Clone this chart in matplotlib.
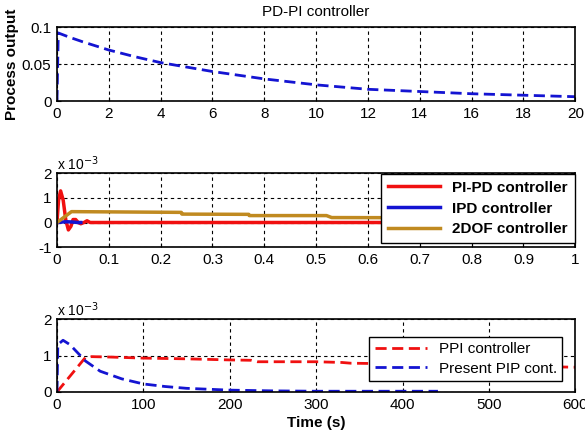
import matplotlib
matplotlib.use('Agg')
import matplotlib.pyplot as plt

# top: PD-PI controller response
t_pdpi = [0, 0.05, 0.5, 1, 2, 3, 4, 5, 6, 7, 8, 9, 10, 11, 12, 13, 14, 15, 16, 17, 18, 19, 20]
y_pdpi = [0, 0.092, 0.086, 0.080, 0.069, 0.060, 0.052, 0.046, 0.040, 0.035, 0.030, 0.026, 0.022,
          0.019, 0.016, 0.0145, 0.013, 0.0115, 0.010, 0.009, 0.008, 0.007, 0.006]

# middle: values in units of 1e-3
t_pipd = [0, 0.003, 0.007, 0.012, 0.017, 0.022, 0.027, 0.031, 0.036, 0.041, 0.046, 0.052, 0.058, 0.064, 0.07, 1.0]
y_pipd = [0, 0.9, 1.28, 0.9, 0.1, -0.3, -0.15, 0.12, 0.12, 0.0, -0.05, 0.0, 0.07, 0.0, 0.0, 0.0]
t_ipd = [0, 0.01, 0.02, 0.03, 0.04, 0.046]
y_ipd = [0, 0.02, 0.03, 0.02, 0.0, 0.0]
t_2dof = [0, 0.028, 0.1, 0.24, 0.241, 0.37, 0.371, 0.52, 0.53, 1.0]
y_2dof = [0, 0.44, 0.43, 0.41, 0.34, 0.33, 0.28, 0.28, 0.2, 0.18]

# bottom: values in units of 1e-3
t_ppi = [0, 33, 40, 60, 100, 150, 200, 225, 232, 300, 330, 340, 400, 500, 600]
y_ppi = [0, 0.95, 0.97, 0.96, 0.93, 0.91, 0.88, 0.87, 0.83, 0.83, 0.81, 0.79, 0.77, 0.72, 0.68]
t_pip = [0, 1, 7, 15, 25, 33, 50, 75, 100, 125, 150, 200, 250, 300, 350, 400, 441]
y_pip = [0, 1.3, 1.42, 1.3, 1.05, 0.85, 0.57, 0.36, 0.22, 0.15, 0.1, 0.05, 0.03, 0.02, 0.02, 0.02, 0.02]

blue = '#1414d2'
red = '#f01010'
brown = '#c08a20'

plt.rcParams['font.family'] = 'Liberation Sans'
plt.rcParams['xtick.direction'] = 'in'
plt.rcParams['ytick.direction'] = 'in'
plt.rcParams['axes.unicode_minus'] = False

fig = plt.figure(figsize=(5.85, 4.36), dpi=100)
ax1 = fig.add_axes([0.0974, 0.768, 0.886, 0.170])
ax2 = fig.add_axes([0.0974, 0.433, 0.886, 0.170])
ax3 = fig.add_axes([0.0974, 0.101, 0.886, 0.167])

def style(ax):
	ax.grid(True, color='black', linestyle=(0, (3, 3)), linewidth=0.8)
	ax.tick_params(labelsize=11, length=3, pad=4, colors='black')
	for s in ax.spines.values():
		s.set_linewidth(1.2)

ax1.plot(t_pdpi, y_pdpi, color=blue, linestyle=(0, (4, 2)), linewidth=2)
ax1.set_xlim(0, 20)
ax1.set_ylim(0, 0.1)
ax1.set_xticks(range(0, 21, 2))
ax1.set_yticks([0, 0.05, 0.1])
ax1.set_yticklabels(['0', '0.05', '0.1'])
ax1.set_title("PD-PI controller", fontsize=11, pad=8)
ax1.set_ylabel("Process output", fontsize=11, fontweight='bold', labelpad=2)
style(ax1)

ax2.plot(t_pipd, y_pipd, color=red, linewidth=2.5, label="PI-PD controller")
ax2.plot(t_ipd, y_ipd, color=blue, linewidth=2.5, label="IPD controller")
ax2.plot(t_2dof, y_2dof, color=brown, linewidth=2.5, label="2DOF controller")
ax2.set_xlim(0, 1)
ax2.set_ylim(-1, 2)
ax2.set_xticks([i / 10 for i in range(11)])
ax2.set_xticklabels(['0', '0.1', '0.2', '0.3', '0.4', '0.5', '0.6', '0.7', '0.8', '0.9', '1'])
ax2.set_yticks([-1, 0, 1, 2])
ax2.text(0.0, 1.04, r'x 10$^{-3}$', transform=ax2.transAxes, fontsize=10)
leg2 = ax2.legend(loc='upper right', prop={'weight': 'bold', 'size': 11}, fancybox=False,
                  edgecolor='black', framealpha=1, borderaxespad=0.05, handlelength=3.4,
                  labelspacing=0.45, borderpad=0.45)
leg2.get_frame().set_linewidth(1.0)
style(ax2)

ax3.plot(t_ppi, y_ppi, color=red, linestyle=(0, (4, 2)), linewidth=2, label="PPI controller")
ax3.plot(t_pip, y_pip, color=blue, linestyle=(0, (4, 2)), linewidth=2, label="Present PIP cont.")
ax3.set_xlim(0, 600)
ax3.set_ylim(0, 2)
ax3.set_xticks(range(0, 601, 100))
ax3.set_yticks([0, 1, 2])
ax3.text(0.0, 1.04, r'x 10$^{-3}$', transform=ax3.transAxes, fontsize=10)
ax3.set_xlabel("Time (s)", fontsize=11, fontweight='bold', labelpad=3)
leg3 = ax3.legend(loc='upper right', bbox_to_anchor=(0.99, 0.86), fontsize=11, fancybox=False,
                  edgecolor='black', framealpha=1, handlelength=3.4, labelspacing=0.35, borderpad=0.35)
leg3.get_frame().set_linewidth(1.0)
style(ax3)

fig.savefig('out.png', dpi=100)
